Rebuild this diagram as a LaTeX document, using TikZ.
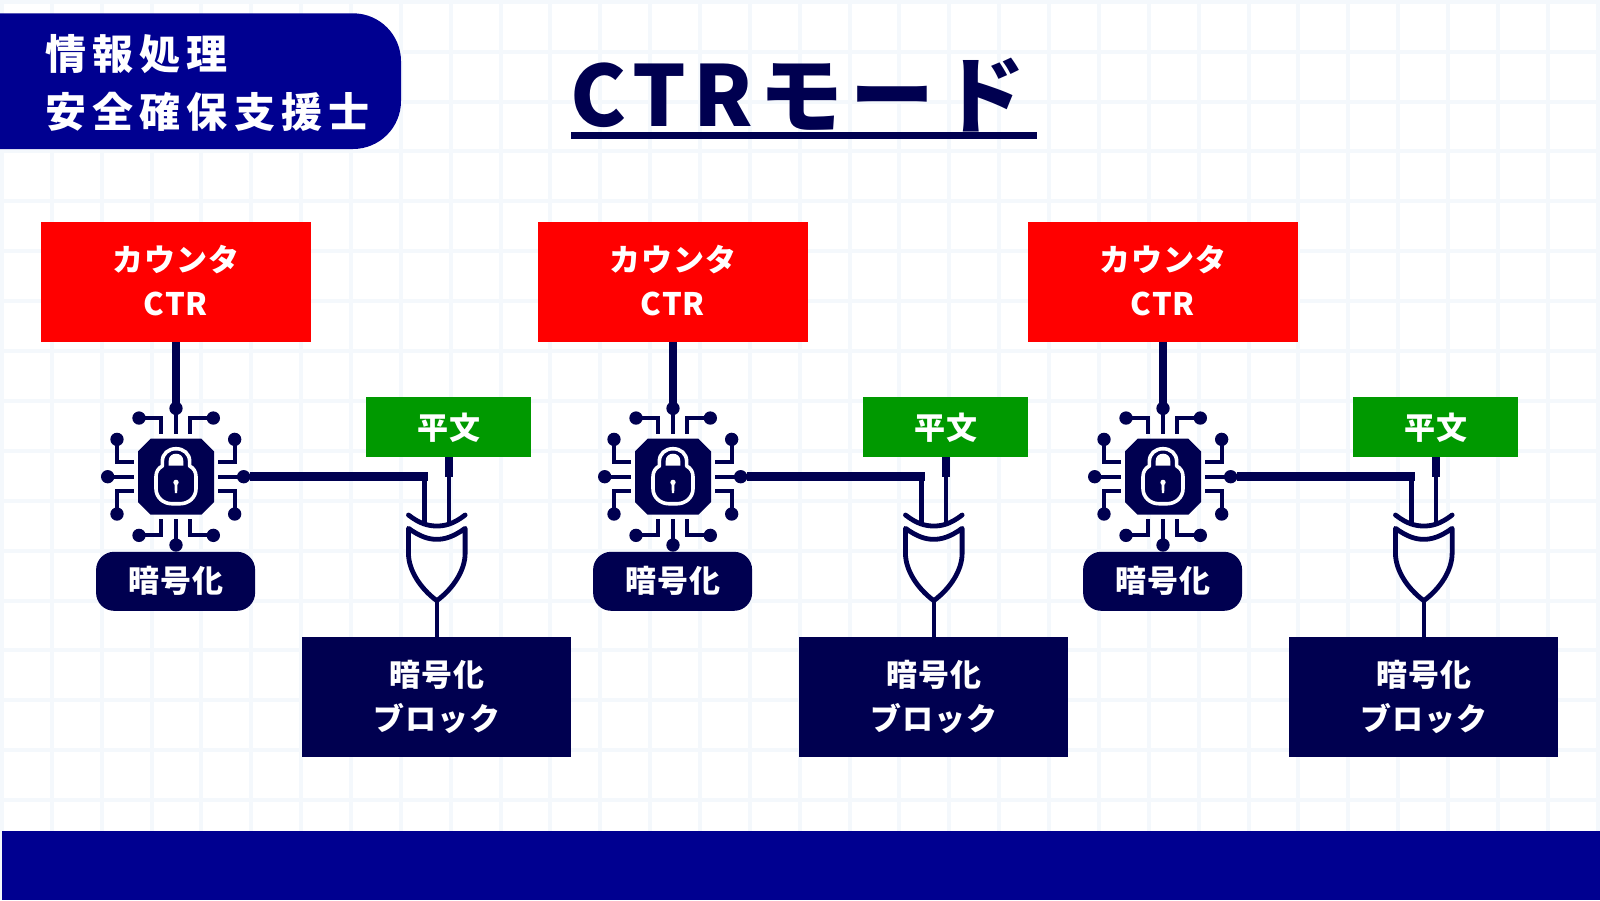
\documentclass[tikz,border=0pt]{standalone}
\usepackage{fontspec}
\newfontfamily\jpwide[LetterSpace=15]{Noto Sans CJK JP}
\newfontfamily\jptitle[LetterSpace=8.3]{Noto Sans CJK JP}
\newfontfamily\jpbody[LetterSpace=3.5]{Noto Sans CJK JP}
\definecolor{navy}{HTML}{000050}
\definecolor{hdrblue}{HTML}{000090}
\definecolor{gridc}{HTML}{F4F8FC}
\definecolor{ctrred}{HTML}{FF0000}
\definecolor{plaingreen}{HTML}{009900}
\tikzset{
  boxbase/.style={inner sep=0pt,outer sep=0pt,align=center,text=white,font=\jpbody\bfseries\fontsize{31}{44}\selectfont},
  ctrbox/.style={boxbase,fill=ctrred,minimum width=269.4pt,minimum height=120pt},
  blockbox/.style={boxbase,fill=navy,minimum width=269pt,minimum height=120pt},
  plainbox/.style={boxbase,fill=plaingreen,minimum width=165pt,minimum height=60pt},
  encpill/.style={boxbase,fill=navy,rounded corners=18pt,minimum width=159pt,minimum height=59pt},
  hdrtext/.style={inner sep=0pt,outer sep=0pt,anchor=base west,text=white,font=\jpwide\bfseries\fontsize{41}{44}\selectfont},
  wire/.style={draw=navy,line width=8.5pt},
  thinwire/.style={draw=navy,line width=4.6pt},
  lead/.style={draw=navy,line width=3.8pt},
  gateline/.style={draw=navy,line width=4.8pt,line join=round,line cap=round}
}
\begin{document}
\begin{tikzpicture}[x=1pt,y=-1pt]
\useasboundingbox (0,0) rectangle (1600,900);
\fill[white] (0,0) rectangle (1600,900);
% background grid
\foreach \k in {0,...,32} {\fill[gridc] ({2+49.86*\k-2},0) rectangle ({2+49.86*\k+2},900);}
\foreach \k in {0,...,17} {\fill[gridc] (0,{1.7+49.9*\k-2}) rectangle (1600,{1.7+49.9*\k+2});}
% bottom band
\fill[hdrblue] (2,830.7) rectangle (1600,900);
% header
\fill[hdrblue] (0,13.3) [rounded corners=48pt] -- (401,13.3) -- (401,149) [sharp corners] -- (0,149) -- cycle;
\node[hdrtext] (hdrA) at (45.5,69) {情報処理};
\node[hdrtext] (hdrB) at (45.5,127.5) {安全確保支援士};
% title
\node[inner sep=0pt,outer sep=0pt,anchor=base west,text=navy,font=\jptitle\bfseries\fontsize{84}{90}\selectfont] (title) at (570.5,126) {CTRモード};
\fill[navy] (571,131.7) rectangle (1037,139.3);
% columns
\foreach \n/\dx in {A/0,B/497,C/987} {
\begin{scope}[shift={(\dx,0)}]
  \node[ctrbox] (ctr\n) at (175.8,282) {\raisebox{2.5pt}{カウンタ}\\\raisebox{2.5pt}{CTR}};
  \node[plainbox] (plain\n) at (448.8,427.3) {\raisebox{2pt}{平文}};
  \node[blockbox] (block\n) at (436.8,697) {暗号化\\ブロック};
  \node[encpill] (enc\n) at (175.6,581.3) {\raisebox{-3pt}{暗号化}};
  % chip icon
  \begin{scope}[shift={(176,476.7)},x=.33333pt,y=-.33333pt]
    \coordinate (chiptop\n) at (0,-205);
    \coordinate (chipout\n) at (203,0);
    \fill[navy] (-114,-76) -- (-76,-114) -- (76,-114) -- (114,-76) -- (114,76) -- (76,114) -- (-76,114) -- (-114,76) -- cycle;
    \begin{scope}[shift={(-120,-122)}]
      \draw[white,line width=3.6pt,line join=round] (79,76) .. controls (79,53) and (97,38) .. (120,38) .. controls (143,38) and (161,53) .. (161,76) -- (161,90) .. controls (173,96) and (180,107) .. (180,122) -- (180,158) .. controls (180,184) and (158,203) .. (133,203) -- (107,203) .. controls (82,203) and (60,184) .. (60,158) -- (60,122) .. controls (60,107) and (67,96) .. (79,90) -- cycle;
      \fill[white] (98,89) -- (98,75) .. controls (98,61) and (108,53) .. (120,53) .. controls (132,53) and (142,61) .. (142,75) -- (142,89) -- cycle;
      \fill[white] (120,139) circle[radius=8];
      \fill[white] (115.5,141) -- (124.5,141) -- (123.5,171) -- (116.5,171) -- cycle;
    \end{scope}
    \foreach \a/\b/\c/\d/\e/\f in {
      -111/-176/-44/-176/-44/-127,
       112/-176/43/-176/43/-127,
      -111/176/-44/176/-44/127,
       112/176/43/176/43/127,
      -177/-112/-177/-44/-126/-44,
       176/-112/176/-44/126/-44,
      -177/112/-177/44/-126/44,
       176/112/176/44/126/44,
       0/-205/0/-166/0/-127,
       0/205/0/166/0/127,
      -205/0/-166/0/-126/0,
       203/0/166/0/126/0} {
      \draw[lead] (\a,\b) -- (\c,\d) -- (\e,\f);
      \fill[navy] (\a,\b) circle[radius=20];
    }
  \end{scope}
  % XOR gate
  \begin{scope}[shift={(436.8,390)},x=.33333pt,y=-.33333pt]
    \coordinate (gateout\n) at (0,632);
    \draw[gateline] (-85,375) .. controls (-50,402) and (-25,408) .. (0,408) .. controls (25,408) and (50,402) .. (85,375);
    \draw[gateline] (-85,415) .. controls (-50,440) and (-25,448) .. (0,448) .. controls (25,448) and (50,440) .. (85,415) -- (85,490) .. controls (85,540) and (50,595) .. (0,632) .. controls (-50,595) and (-85,540) .. (-85,490) -- cycle;
  \end{scope}
  % connectors
  \draw[wire] (ctr\n.south) -- (ctr\n.south |- chiptop\n);
  \coordinate (bend\n) at (424.7,476.7);
  \coordinate (pin2\n) at (448.8,477);
  \draw[wire] ([xshift=6pt]chipout\n) -- ([xshift=3pt]bend\n);
  \draw[thinwire] (bend\n) -- (424.7,523);
  \draw[wire] (plain\n.south) -- (pin2\n);
  \draw[thinwire] (pin2\n) -- (448.8,523);
  \draw[thinwire] (gateout\n) -- (block\n.north);
\end{scope}
}
\end{tikzpicture}
\end{document}
